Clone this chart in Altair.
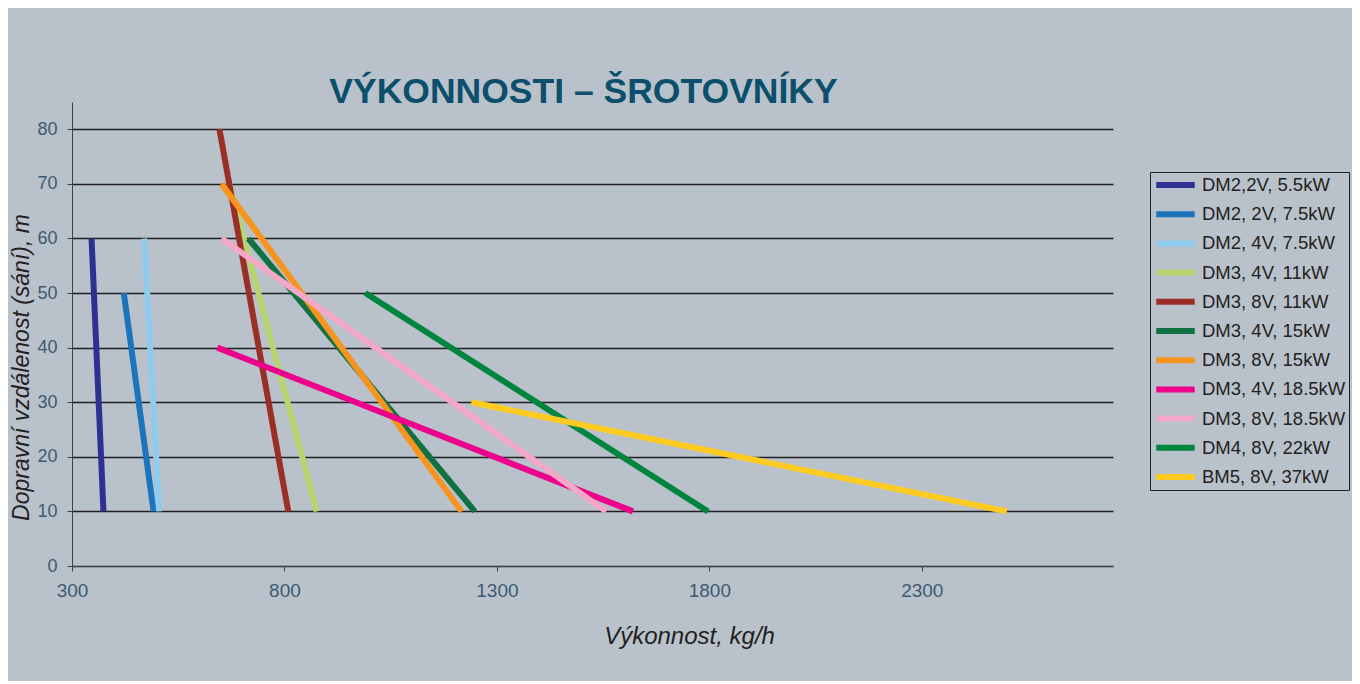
import altair as alt
import pandas as pd

# ---- data ----
series = ["DM2,2V, 5.5kW", "DM2, 2V, 7.5kW", "DM2, 4V, 7.5kW", "DM3, 4V, 11kW",
          "DM3, 8V, 11kW", "DM3, 4V, 15kW", "DM3, 8V, 15kW", "DM3, 4V, 18.5kW",
          "DM3, 8V, 18.5kW", "DM4, 8V, 22kW", "BM5, 8V, 37kW"]
colors = ["#2e3192", "#1c75bc", "#8ecbed", "#b7d56f", "#9b2f27", "#127142",
          "#f7941d", "#ec008c", "#f3a8c8", "#00853f", "#ffcb21"]
# start point (capacity kg/h, distance m) and end point of each line
x_start = [346, 422, 470, 670, 647, 715, 652, 642, 652, 990, 1240]
y_start = [60, 50, 60, 70, 80, 60, 70, 40, 60, 50, 30]
x_end = [374, 492, 505, 876, 809, 1248, 1217, 1620, 1557, 1797, 2500]
y_end = [10, 10, 10, 10, 10, 10, 10, 10, 10, 10, 10]

x_ticks = [300, 800, 1300, 1800, 2300]
y_ticks = [0, 10, 20, 30, 40, 50, 60, 70, 80]

rows = []
for i, s in enumerate(series):
    rows.append({"series": s, "x": x_start[i], "y": y_start[i], "pt": 0})
    rows.append({"series": s, "x": x_end[i], "y": y_end[i], "pt": 1})
df = pd.DataFrame(rows)

FONT = "Liberation Sans"
TICK_COLOR = "#3d5a73"
DARK = "#231f20"

chart = alt.Chart(df).mark_line(strokeWidth=6, strokeCap="butt").encode(
    x=alt.X("x:Q",
            scale=alt.Scale(domain=[300, 2750], nice=False, zero=False),
            axis=alt.Axis(values=x_ticks, format="d", title="Výkonnost, kg/h", grid=False,
                          domainColor="#404040", tickColor="#404040", tickSize=5,
                          labelFont=FONT, labelFontSize=19, labelColor=TICK_COLOR,
                          labelPadding=10, labelFlush=False,
                          titleFont=FONT, titleFontSize=24, titleFontStyle="italic",
                          titleFontWeight="normal", titleColor=DARK,
                          titleX=617, titleY=77, titleBaseline="alphabetic",
                          titleAlign="center")),
    y=alt.Y("y:Q",
            scale=alt.Scale(domain=[0, 85], nice=False),
            axis=alt.Axis(values=y_ticks, format="d", title="Dopravní vzdálenost (sání), m",
                          grid=True, gridColor=DARK, gridWidth=1.3,
                          domainColor="#404040", tickColor="#404040", tickSize=5,
                          labelFont=FONT, labelFontSize=18, labelColor=TICK_COLOR,
                          labelPadding=10, labelFlush=False,
                          titleFont=FONT, titleFontSize=23, titleFontStyle="italic",
                          titleFontWeight="normal", titleColor=DARK,
                          titleX=-44, titleY=265, titleAngle=270,
                          titleBaseline="alphabetic", titleAlign="center")),
    color=alt.Color("series:N", sort=series,
                    scale=alt.Scale(domain=series, range=colors),
                    legend=alt.Legend(title=None, orient="none", legendX=1078, legendY=70,
                                      strokeColor=DARK, padding=3,
                                      symbolType="stroke", symbolSize=1482,
                                      symbolStrokeWidth=6, symbolOpacity=1,
                                      labelFont=FONT, labelFontSize=18.5, labelColor=DARK,
                                      labelOffset=4, labelLimit=300,
                                      clipHeight=20, rowPadding=9.2)),
    order=alt.Order("pt:Q"),
).properties(
    width=1041,
    height=464,
    title=alt.Title("VÝKONNOSTI – ŠROTOVNÍKY", font=FONT, fontSize=35.5,
                    fontWeight="bold", color="#0c4f6c", anchor="middle",
                    dx=-9, dy=36, offset=0, baseline="alphabetic"),
    background="#b9c2ca",
    padding={"left": 64, "top": 94, "right": 239, "bottom": 115},
    autosize=alt.AutoSizeParams(type="none"),
).configure_view(stroke=None)

chart.save("out.html", embed_options={"renderer": "svg", "actions": False})
